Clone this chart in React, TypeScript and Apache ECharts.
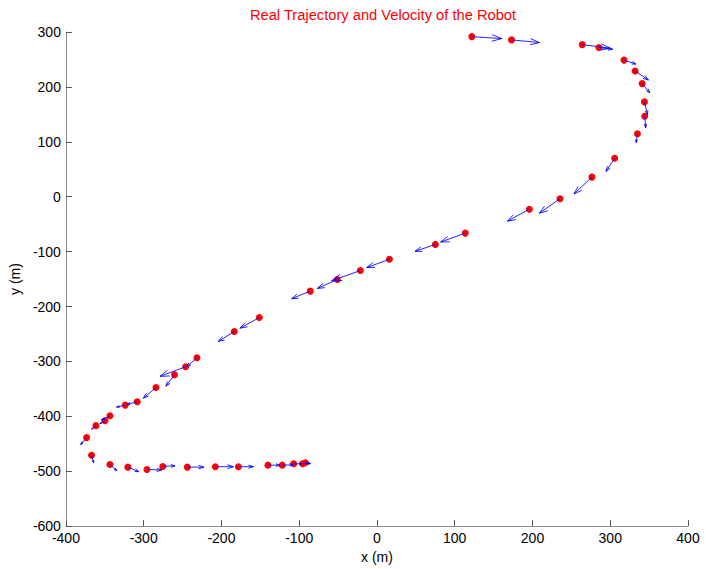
import React, { useEffect, useRef } from "react";
import * as echarts from "echarts";

// Robot positions (m) and velocity arrows (m, as drawn)
const posX = [122, 173, 264, 285.5, 317.7, 332, 341, 344, 344.3, 335, 305.7, 276.5, 235.4, 196, 113.6, 75.1, 16, -21.4, -51, -85.8, -151.3, -183.5, -231.5, -246, -260.3, -284.2, -308.3, -323.7, -343.4, -349.8, -361.4, -373.4, -367, -343.4, -320.3, -295.8, -275.5, -243.9, -207.8, -178.2, -140.2, -121.8, -107.1, -95.6, -92.2];
const posY = [291.6, 285.6, 277, 271.6, 248.8, 228.9, 206, 172.7, 146.7, 114.8, 70.1, 35.7, -3.6, -22.8, -66.3, -86.9, -114, -134.5, -150.8, -172, -220.2, -245.6, -293.4, -309.7, -324.2, -347.7, -373.6, -379.6, -399, -408, -417, -438.8, -470.8, -487.7, -492.6, -496.8, -491.3, -492.6, -491.8, -491.8, -489, -489, -486.5, -486.5, -484.7];
const velU = [38.6, 36, 36, 17.6, 15.4, 17.1, 9.9, 3.9, 1.3, -1.7, -11.2, -23.2, -26.6, -28.3, -31.7, -26.2, -29.2, -36.9, -25.7, -24, -24.9, -20.6, -13.3, -33, -11.2, -16.3, -13.7, -11.2, -10.7, -6.4, -5.6, -7.7, 2.6, 9, 14.1, 18.9, 15.9, 21.4, 23.2, 19.3, 15.4, 14.1, 10.3, 10.3, 5];
const velV = [-3.6, -4.8, -6.5, -3, -7.2, -16.3, -16.9, -23, -21, -16.3, -24.1, -30.8, -26.6, -21.7, -16.3, -12.7, -15.1, -18.7, -16.3, -13.9, -19.3, -18.1, -16.3, -17.5, -21, -19.3, -4.8, -3.6, -7.8, -5.4, -6.6, -12.7, -13.9, -11.5, -8.4, -1.2, 1.2, 0, 0, 0, 0, 0.5, 0, 0.5, 0];

const titleText = "Real Trajectory and Velocity of the Robot";
const xName = "x (m)";
const yName = "y (m)";

const FONT = "'Liberation Sans', Arial, Helvetica, sans-serif";

export default function App() {
  const ref = useRef<HTMLDivElement>(null);
  useEffect(() => {
    document.body.style.margin = "0";
    if (!ref.current) return;
    const chart = echarts.init(ref.current, undefined, { renderer: "svg" });
    const pts = posX.map((x, i) => [x, posY[i]]);
    const arrows = posX.map((x, i) => [x, posY[i], velU[i], velV[i]]);
    chart.setOption({
      animation: false,
      backgroundColor: "#ffffff",
      title: {
        text: titleText,
        left: 378,
        top: 2,
        textAlign: "center",
        textStyle: { color: "#ff0000", fontWeight: "normal", fontSize: 14.7, fontFamily: FONT },
      },
      grid: { left: 64, right: 18, top: 32, bottom: 40, containLabel: false },
      xAxis: {
        type: "value",
        min: -400,
        max: 400,
        interval: 100,
        name: xName,
        nameLocation: "middle",
        nameGap: 20,
        nameTextStyle: { color: "#000", fontSize: 14, fontFamily: FONT },
        axisLine: { show: true, onZero: false, lineStyle: { color: "#8c8c8c", width: 1 } },
        axisTick: { show: true, inside: true, length: 6, lineStyle: { color: "#555" } },
        axisLabel: { color: "#000", fontSize: 14, fontFamily: FONT, margin: 5 },
        splitLine: { show: false },
      },
      yAxis: {
        type: "value",
        min: -600,
        max: 300,
        interval: 100,
        name: yName,
        nameLocation: "middle",
        nameGap: 34,
        nameRotate: 90,
        nameTextStyle: { color: "#000", fontSize: 14, fontFamily: FONT },
        axisLine: { show: true, onZero: false, lineStyle: { color: "#8c8c8c", width: 1 } },
        axisTick: { show: true, inside: true, length: 6, lineStyle: { color: "#555" } },
        axisLabel: { color: "#000", fontSize: 14, fontFamily: FONT, margin: 5 },
        splitLine: { show: false },
      },
      series: [
        {
          type: "scatter",
          data: pts,
          symbol: "circle",
          symbolSize: 7,
          itemStyle: { color: "#ff0000", opacity: 1 },
          z: 2,
        },
        {
          type: "custom",
          data: arrows,
          encode: { x: 0, y: 1 },
          z: 3,
          renderItem: (params: any, api: any) => {
            const x = api.value(0);
            const y = api.value(1);
            const u = api.value(2);
            const v = api.value(3);
            const p0 = api.coord([x, y]);
            const p1 = api.coord([x + u, y + v]);
            const dx = p1[0] - p0[0];
            const dy = p1[1] - p0[1];
            const a = 0.33;
            const b = 0.33;
            const h1 = [p1[0] - a * (dx + b * dy), p1[1] - a * (dy - b * dx)];
            const h2 = [p1[0] - a * (dx - b * dy), p1[1] - a * (dy + b * dx)];
            const style = { stroke: "#0000ff", lineWidth: 1, fill: null, opacity: 0.85 };
            return {
              type: "group",
              children: [
                { type: "line", shape: { x1: p0[0], y1: p0[1], x2: p1[0], y2: p1[1] }, style },
                { type: "polyline", shape: { points: [h1, p1, h2] }, style },
              ],
            };
          },
        },
      ],
    });
    return () => chart.dispose();
  }, []);
  return <div ref={ref} style={{ width: 706, height: 569 }} />;
}
